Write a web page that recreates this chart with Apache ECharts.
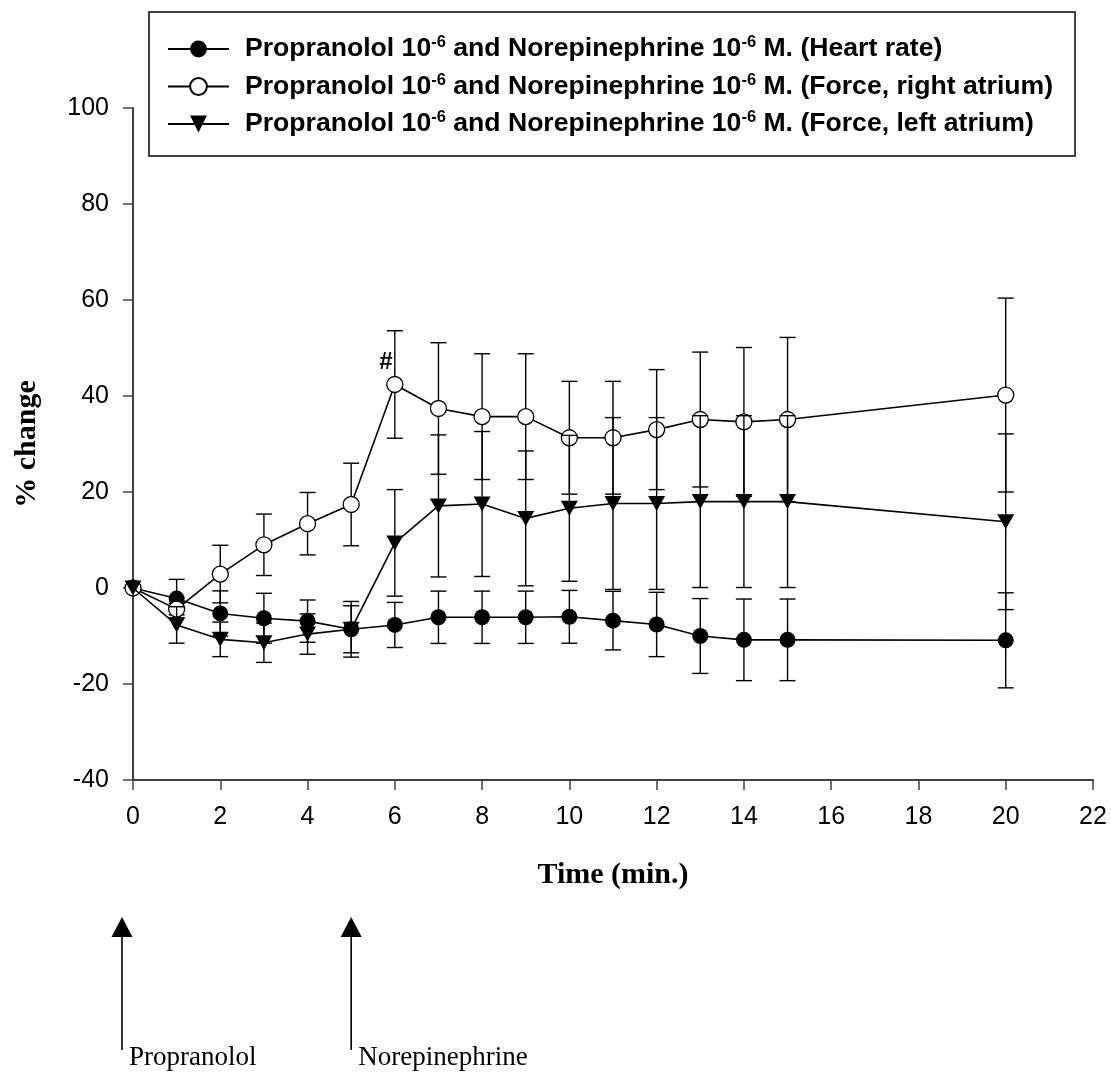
<!DOCTYPE html>
<html>
<head>
<meta charset="utf-8">
<script src="https://cdn.jsdelivr.net/npm/echarts@6/dist/echarts.min.js"></script>
<style>
  html, body { margin: 0; padding: 0; background: #fff; }
  #chart { width: 1111px; height: 1073px; }
</style>
</head>
<body>
<div id="chart"></div>
<script>
// Time after drug addition (min.)
const times = [0, 1, 2, 3, 4, 5, 6, 7, 8, 9, 10, 11, 12, 13, 14, 15, 20];

// Heart rate, % change (mean and SEM)
const heartRate    = [0, -2.2, -5.3, -6.3, -6.9, -8.6, -7.7, -6.1, -6.1, -6.1, -6.0, -6.8, -7.6, -10.0, -10.8, -10.8, -10.9];
const heartRateErr = [0, 4.0, 4.7, 5.2, 4.4, 4.9, 4.7, 5.45, 5.45, 5.45, 5.5, 6.1, 6.7, 7.8, 8.5, 8.5, 9.9];

// Force of contraction, right atrium
const rightForce    = [0, -4.4, 2.9, 9.0, 13.4, 17.4, 42.4, 37.4, 35.7, 35.7, 31.3, 31.3, 33.0, 35.1, 34.6, 35.1, 40.2];
const rightForceErr = [0, 1.2, 6.0, 6.4, 6.5, 8.6, 11.2, 13.7, 13.1, 13.1, 11.75, 11.75, 12.5, 14.05, 15.5, 17.1, 20.2];

// Force of contraction, left atrium
const leftForce    = [0, -7.7, -10.7, -11.4, -9.6, -8.6, 9.4, 17.1, 17.5, 14.5, 16.6, 17.6, 17.6, 18.0, 18.0, 18.0, 13.8];
const leftForceErr = [0, 3.8, 3.6, 4.1, 4.2, 5.8, 11.1, 14.8, 15.1, 14.05, 15.2, 17.9, 17.9, 17.9, 17.9, 17.9, 18.3];

// Significance mark on the right-atrium series
const significance = { index: 6, text: '#' };

// Drug additions shown under the time axis
const eventNames = ['Propranolol', 'Norepinephrine'];
const eventTimes = [0, 5];

const seriesNames = [
  'Propranolol 10-6 and Norepinephrine 10-6 M. (Heart rate)',
  'Propranolol 10-6 and Norepinephrine 10-6 M. (Force, right atrium)',
  'Propranolol 10-6 and Norepinephrine 10-6 M. (Force, left atrium)'
];

const xTicks = { min: 0, max: 22, interval: 2 };
const yTicks = { min: -40, max: 100, interval: 20 };

const SANS = "'Liberation Sans', Arial, sans-serif";
const SERIF = "'Liberation Serif', 'Times New Roman', serif";

function pairs(vals) { return times.map((t, i) => [t, vals[i]]); }
function bars(vals, errs) {
  return times.map((t, i) => [t, vals[i] - errs[i], vals[i] + errs[i]])
              .filter((d, i) => errs[i] > 0);
}

// I-beam error bar: vertical stem plus a cap at each end
function errorBarItem(params, api) {
  const x = api.value(0);
  const lo = api.coord([x, api.value(1)]);
  const hi = api.coord([x, api.value(2)]);
  const w = 8;
  const st = { stroke: '#000', lineWidth: 1.4 };
  return {
    type: 'group',
    children: [
      { type: 'line', shape: { x1: lo[0], y1: lo[1], x2: hi[0], y2: hi[1] }, style: st },
      { type: 'line', shape: { x1: hi[0] - w, y1: hi[1], x2: hi[0] + w, y2: hi[1] }, style: st },
      { type: 'line', shape: { x1: lo[0] - w, y1: lo[1], x2: lo[0] + w, y2: lo[1] }, style: st }
    ]
  };
}

function errorSeries(name, vals, errs, z) {
  return {
    name: name, type: 'custom', z: z,
    renderItem: errorBarItem,
    encode: { x: 0, y: [1, 2] },
    data: bars(vals, errs),
    silent: true
  };
}

const rightData = pairs(rightForce).map((d, i) => i === significance.index ? {
  value: d,
  label: {
    show: true, formatter: significance.text, position: 'top', distance: 1, offset: [-9, 0],
    fontFamily: SANS, fontWeight: 'bold', fontSize: 24, color: '#000'
  }
} : d);

const chart = echarts.init(document.getElementById('chart'), null, { renderer: 'canvas' });

chart.setOption({
  animation: false,
  backgroundColor: '#fff',
  grid: { left: 133, right: 18, top: 108, bottom: 293, containLabel: false },
  legend: {
    data: seriesNames,
    orient: 'vertical',
    left: 149, top: 12,
    padding: [22, 22, 17, 18],
    borderColor: '#404040', borderWidth: 2,
    itemWidth: 61, itemHeight: 21, itemGap: 7.5,
    selectedMode: false,
    formatter: n => n.replace(/10-6/g, '10{sup|-6}'),
    textStyle: {
      fontFamily: SANS, fontWeight: 'bold', fontSize: 26.6, color: '#000',
      lineHeight: 30, padding: [0, 0, 0, 11],
      rich: {
        sup: { fontFamily: SANS, fontWeight: 'bold', fontSize: 16.5, color: '#000', verticalAlign: 'top', lineHeight: 30, padding: [0, 0, 10, 0] }
      }
    }
  },
  xAxis: {
    type: 'value', min: xTicks.min, max: xTicks.max, interval: xTicks.interval,
    name: 'Time (min.)', nameLocation: 'middle', nameGap: 80,
    nameTextStyle: { fontFamily: SERIF, fontWeight: 'bold', fontSize: 30, color: '#000' },
    axisLine: { onZero: false, lineStyle: { color: '#404040', width: 2 } },
    axisTick: { show: true, inside: false, length: 10, lineStyle: { color: '#404040', width: 1.5 } },
    axisLabel: { fontFamily: SANS, fontSize: 25, color: '#000', margin: 25 },
    splitLine: { show: false }
  },
  yAxis: {
    type: 'value', min: yTicks.min, max: yTicks.max, interval: yTicks.interval,
    name: '% change', nameLocation: 'middle', nameGap: 91, nameRotate: 90,
    nameTextStyle: { fontFamily: SERIF, fontWeight: 'bold', fontSize: 30, color: '#000' },
    axisLine: { show: true, onZero: false, lineStyle: { color: '#404040', width: 2 } },
    axisTick: { show: true, inside: false, length: 10, lineStyle: { color: '#404040', width: 1.5 } },
    axisLabel: { fontFamily: SANS, fontSize: 25, color: '#000', margin: 24 },
    splitLine: { show: false }
  },
  series: [
    errorSeries('err-heart', heartRate, heartRateErr, 2),
    {
      name: seriesNames[0], type: 'line', z: 3,
      data: pairs(heartRate),
      symbol: 'circle', symbolSize: 16,
      itemStyle: { color: '#000' },
      lineStyle: { color: '#000', width: 1.6 }
    },
    errorSeries('err-right', rightForce, rightForceErr, 4),
    {
      name: seriesNames[1], type: 'line', z: 5,
      data: rightData,
      symbol: 'circle', symbolSize: 16,
      itemStyle: { color: '#fff', borderColor: '#000', borderWidth: 1.3 },
      lineStyle: { color: '#000', width: 1.6 }
    },
    errorSeries('err-left', leftForce, leftForceErr, 6),
    {
      name: seriesNames[2], type: 'line', z: 7,
      data: pairs(leftForce),
      symbol: 'triangle', symbolRotate: 180, symbolSize: [17, 15],
      itemStyle: { color: '#000' },
      lineStyle: { color: '#000', width: 1.6 }
    }
  ]
});

// Arrows marking when each drug was added
const arrowTipY = 917, arrowBaseY = 937, arrowEndY = 1050, headHalf = 10.5;
const arrowShift = [-11, 0];
const graphics = [];
eventTimes.forEach((t, i) => {
  const px = chart.convertToPixel({ gridIndex: 0 }, [t, yTicks.min])[0] + arrowShift[i];
  graphics.push({
    type: 'line', shape: { x1: px, y1: arrowBaseY - 2, x2: px, y2: arrowEndY },
    style: { stroke: '#000', lineWidth: 1.6 }
  });
  graphics.push({
    type: 'polygon', shape: { points: [[px, arrowTipY], [px - headHalf, arrowBaseY], [px + headHalf, arrowBaseY]] },
    style: { fill: '#000' }
  });
  graphics.push({
    type: 'text', x: px + 7, y: 1058,
    style: { text: eventNames[i], font: '27px ' + SERIF, fill: '#000', textAlign: 'left', textVerticalAlign: 'middle' }
  });
});
chart.setOption({ graphic: graphics });
</script>
</body>
</html>
